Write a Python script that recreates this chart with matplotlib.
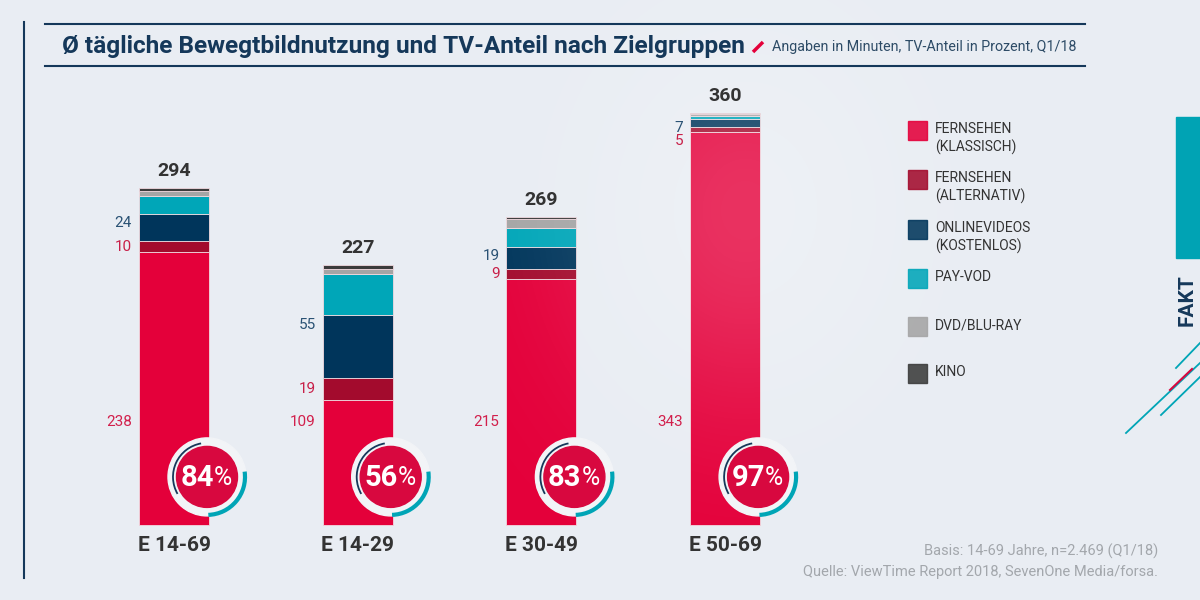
import numpy as np
import matplotlib.pyplot as plt
from matplotlib.patches import Circle, Arc, Rectangle

plt.rcParams["font.family"] = ["Roboto", "DejaVu Sans"]

# data
groups = ["E 14-69", "E 14-29", "E 30-49", "E 50-69"]
series = ["FERNSEHEN\n(KLASSISCH)", "FERNSEHEN\n(ALTERNATIV)", "ONLINEVIDEOS\n(KOSTENLOS)",
          "PAY-VOD", "DVD/BLU-RAY", "KINO"]
tv_klassisch = [238, 109, 215, 343]
tv_alternativ = [10, 19, 9, 5]
online_videos = [24, 55, 19, 7]
pay_vod = [15, 36, 16, 2]
dvd_bluray = [5, 5, 8, 2]
kino = [2, 3, 2, 1]
totals = [294, 227, 269, 360]
tv_share = [84, 56, 83, 97]

BG = "#E9EDF3"
NAVY = "#15385A"
TEAL = "#00A5B6"
colors = ["#E4003A", "#A30B2D", "#00355B", "#00A6B8", "#A5A5A5", "#3B3B3B"]

fig = plt.figure(figsize=(12, 6), dpi=100, facecolor=BG)

# bar axes spans the whole figure; 0 min sits at y=525px, 1.145 px per minute
ax = fig.add_axes([0, 0, 1, 1])
ax.set_facecolor("none")
px_per_min = 1.145
slot = 183.7
xlim = (-174 / slot, (1200 - 174) / slot)
ylim = (-75 / px_per_min, 525 / px_per_min)
ax.axis("off")

x = np.arange(len(groups))
w = 70 / slot
stack = [tv_klassisch, tv_alternativ, online_videos, pay_vod, dvd_bluray, kino]
bottom = np.zeros(len(groups))
for vals, c in zip(stack, colors):
    ax.bar(x, vals, width=w, bottom=bottom, color=c, edgecolor="#F1D9DF",
           linewidth=0.6, zorder=2)
    bottom += vals

# soft light spot in the background
yy, xx = np.mgrid[0:600, 0:1200]
d2 = ((xx - 745) / 190) ** 2 + ((yy - 210) / 230) ** 2
glow = np.ones((600, 1200, 4))
glow[..., 3] = 0.2 * np.exp(-d2 * 1.2)
ax.imshow(glow, extent=(xlim[0], xlim[1], ylim[0], ylim[1]), aspect="auto",
          origin="upper", zorder=3)
ax.set_xlim(*xlim)
ax.set_ylim(*ylim)

# value labels
lx = x - w / 2 - 7 / slot
for i in range(len(groups)):
    ax.text(lx[i], 90, str(tv_klassisch[i]), ha="right", va="center",
            color="#D2204C", fontsize=11, zorder=5)
    on_y = tv_klassisch[i] + tv_alternativ[i] + online_videos[i] - 8
    alt_y = tv_klassisch[i] + tv_alternativ[i] / 2
    if alt_y > on_y - 12:
        alt_y = on_y - 12
    ax.text(lx[i], on_y, str(online_videos[i]), ha="right", va="center",
            color="#2A5274", fontsize=11, zorder=5)
    ax.text(lx[i], alt_y, str(tv_alternativ[i]), ha="right", va="center",
            color="#C81F48", fontsize=11, zorder=5)
    ax.text(x[i], totals[i] + 15, str(totals[i]), ha="center", va="center",
            color="#333333", fontsize=14, fontweight="bold", zorder=5)
    ax.text(x[i], -18, groups[i], ha="center", va="center",
            color="#333333", fontsize=15, fontweight="bold", zorder=5)

# overlay in pixel coordinates
deco = fig.add_axes([0, 0, 1, 1])
deco.set_xlim(0, 1200)
deco.set_ylim(600, 0)
deco.set_facecolor("none")
deco.axis("off")

deco.plot([45, 1085], [24, 24], color=NAVY, lw=1.5)
deco.plot([45, 1085], [66, 66], color=NAVY, lw=1.5)
deco.plot([24, 24], [22, 578], color=NAVY, lw=1.5)
deco.text(62, 46, "Ø tägliche Bewegtbildnutzung und TV-Anteil nach Zielgruppen",
          ha="left", va="center", color=NAVY, fontsize=17.6, fontweight="bold")
deco.plot([753, 763], [52, 42], color="#E4003A", lw=2.5, solid_capstyle="butt")
deco.text(772, 47, "Angaben in Minuten, TV-Anteil in Prozent, Q1/18",
          ha="left", va="center", color="#2D4B66", fontsize=10.3)

# legend
leg_y = [130, 179, 229, 278, 326, 373]
for name, c, yc in zip(series, colors, leg_y):
    deco.add_patch(Rectangle((908, yc - 9.5), 19, 19, color=c, alpha=0.88))
    lines = name.split("\n")
    for k, t in enumerate(lines):
        deco.text(935, yc - 1 + 18 * k, t, ha="left", va="center",
                  color="#333333", fontsize=10)

# circles with TV share
to_px = ax.transData + deco.transData.inverted()
for i, share in enumerate(tv_share):
    cx, cy = to_px.transform((x[i] + 33 / slot, 42))
    deco.add_patch(Circle((cx, cy), 39, color="#F2F4F7", zorder=3))
    deco.add_patch(Arc((cx, cy), 68, 68, theta1=-210, theta2=-100,
                       color=NAVY, lw=1.3, zorder=4))
    deco.add_patch(Arc((cx, cy), 76, 76, theta1=-8, theta2=88,
                       color=TEAL, lw=3, zorder=4))
    deco.add_patch(Circle((cx, cy), 30.5, color="#D8083F", zorder=5))
    deco.text(cx + 7, cy + 1, str(share), ha="right", va="center", color="white",
              fontsize=21, fontweight="bold", zorder=6)
    deco.text(cx + 7, cy + 1, "%", ha="left", va="center", color="white",
              fontsize=18, zorder=6)

# right side decoration
deco.add_patch(Rectangle((1176, 117), 24, 141, color="#00A3B4"))
deco.text(1187, 300, "FAKT", rotation=90, ha="center", va="center",
          color=NAVY, fontsize=15, fontweight="bold")
deco.plot([1176, 1200], [368, 343], color=TEAL, lw=1.3)
deco.plot([1126, 1200], [433, 363], color=TEAL, lw=1.3)
deco.plot([1170, 1192], [390, 369], color="#D8083F", lw=1.5)
deco.plot([1161, 1200], [415, 377], color=TEAL, lw=1.3)

# source
deco.text(1158, 551, "Basis: 14-69 Jahre, n=2.469 (Q1/18)", ha="right",
          va="center", color="#A3A7AC", fontsize=10.5)
deco.text(1158, 572, "Quelle: ViewTime Report 2018, SevenOne Media/forsa.",
          ha="right", va="center", color="#A3A7AC", fontsize=10.5)

fig.savefig("out.png", dpi=100, facecolor=BG)
